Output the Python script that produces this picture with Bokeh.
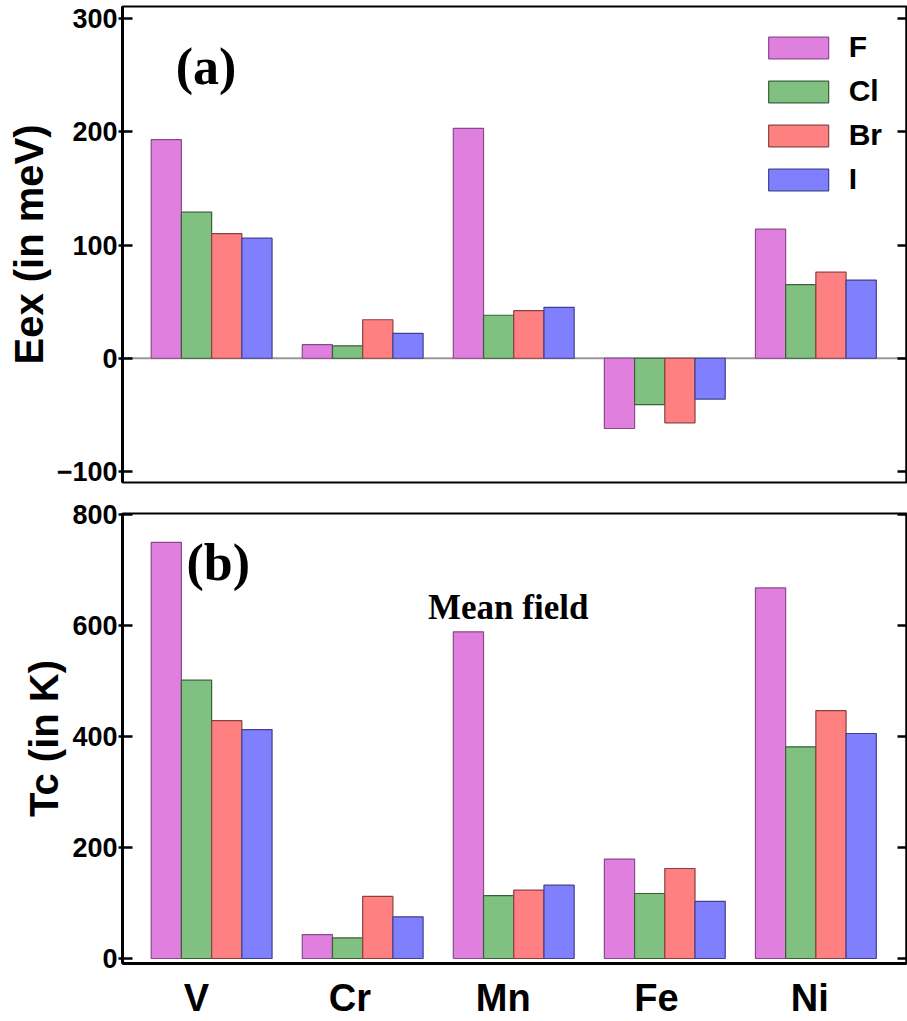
import numpy as np
from bokeh.plotting import figure
from bokeh.layouts import column
from bokeh.models import (Range1d, FixedTicker, LinearAxis, Legend, LegendItem,
                          Span, Label)
from bokeh.embed import file_html
from bokeh.resources import INLINE

# ---------------- data ----------------
elements = ["V", "Cr", "Mn", "Fe", "Ni"]
halides = ["F", "Cl", "Br", "I"]

eex_F = [193, 12, 203, -62, 114]
eex_Cl = [129, 11, 38, -41, 65]
eex_Br = [110, 34, 42, -57, 76]
eex_I = [106, 22, 45, -36, 69]

tc_F = [749, 43, 588, 179, 667]
tc_Cl = [501, 37, 113, 117, 381]
tc_Br = [428, 112, 123, 162, 446]
tc_I = [412, 75, 132, 103, 405]

eex_ticks = [-100, 0, 100, 200, 300]
tc_ticks = [0, 200, 400, 600, 800]

# ---------------- style ----------------
fills = {"F": "#DF80DF", "Cl": "#80C080", "Br": "#FF8080", "I": "#8080FF"}
edges = {"F": "#8A4A8A", "Cl": "#3A603A", "Br": "#8A4040", "I": "#40408F"}
SANS = "Liberation Sans"
SERIF = "Liberation Serif"
bar_w = 0.2
offsets = [-1.5 * bar_w, -0.5 * bar_w, 0.5 * bar_w, 1.5 * bar_w]
idx = np.arange(len(elements))
# category labels sit slightly left of the bar groups in the original
label_pos = [round(float(i) * 1.015 - 0.1, 3) for i in idx]

x_range = Range1d(-0.59, 4.60)


def style_yaxis(ax, ticks, labels=True):
    ax.ticker = FixedTicker(ticks=ticks)
    ax.minor_tick_line_color = None
    ax.major_tick_line_width = 2.5
    ax.major_tick_line_color = "black"
    ax.axis_line_width = 3
    ax.axis_line_color = "black"
    if labels:
        ax.major_tick_in = 10
        ax.major_tick_out = 4
        ax.major_label_text_font = SANS
        ax.major_label_text_font_style = "bold"
        ax.major_label_text_font_size = "27px"
        ax.major_label_text_color = "black"
        ax.major_label_standoff = 1
        ax.axis_label_text_font = SANS
        ax.axis_label_text_font_style = "bold"
        ax.axis_label_text_font_size = "40px"
        ax.axis_label_text_color = "black"
        ax.axis_label_standoff = 3
    else:
        ax.major_tick_in = 9
        ax.major_tick_out = 0
        ax.major_label_overrides = {t: "" for t in ticks}
        ax.major_label_standoff = 0
        ax.axis_line_width = 2


def make_fig(height, yr, top_b, bot_b):
    p = figure(width=907, height=height, x_range=x_range, y_range=yr,
               output_backend="svg", toolbar_location=None,
               min_border_left=122, min_border_right=1,
               min_border_top=top_b, min_border_bottom=bot_b)
    p.grid.visible = False
    p.outline_line_color = "black"
    p.outline_line_width = 2
    p.background_fill_color = "white"
    p.border_fill_color = "white"
    return p


# ---------------- top panel ----------------
p1 = make_fig(497, Range1d(-109.7, 310.6), 6, 15)
p1.xaxis.visible = False
style_yaxis(p1.yaxis[0], eex_ticks)
p1.yaxis[0].major_label_overrides = {-100: "\u2212100"}
p1.yaxis[0].axis_label = "Eex (in meV)"
r_ax1 = LinearAxis()
style_yaxis(r_ax1, eex_ticks, labels=False)
p1.add_layout(r_ax1, "right")

p1.add_layout(Span(location=0, dimension="width", line_color="#999999",
                   line_width=2, level="underlay"))

eex = {"F": eex_F, "Cl": eex_Cl, "Br": eex_Br, "I": eex_I}
items = []
for h, off in zip(halides, offsets):
    r = p1.vbar(x=idx + off, top=eex[h], bottom=0, width=bar_w,
                fill_color=fills[h], line_color=edges[h], line_width=1.2)
    items.append(LegendItem(label=h, renderers=[r]))

legend = Legend(items=items, location="top_right",
                glyph_width=75, glyph_height=27,
                label_text_font=SANS, label_text_font_style="bold",
                label_text_font_size="30px", label_text_color="black",
                label_standoff=13,
                label_height=27, spacing=10, padding=2, margin=24,
                border_line_color=None, background_fill_alpha=0)
p1.add_layout(legend, "center")

p1.add_layout(Label(x=-0.238, y=258, text="(a)", text_font=SERIF,
                    text_font_style="bold", text_font_size="52px",
                    text_color="black",
                    text_align="left", text_baseline="alphabetic"))

# ---------------- bottom panel ----------------
p2 = make_fig(524, Range1d(-9, 801), 16, 54)
style_yaxis(p2.yaxis[0], tc_ticks)
p2.yaxis[0].axis_label = "Tc (in K)"
r_ax2 = LinearAxis()
style_yaxis(r_ax2, tc_ticks, labels=False)
p2.add_layout(r_ax2, "right")

xa = p2.xaxis[0]
xa.ticker = FixedTicker(ticks=label_pos)
xa.major_label_overrides = {pos: e for pos, e in zip(label_pos, elements)}
xa.major_tick_in = 0
xa.major_tick_out = 0
xa.minor_tick_line_color = None
xa.axis_line_width = 3
xa.axis_line_color = "black"
xa.major_label_text_font = SANS
xa.major_label_text_font_style = "bold"
xa.major_label_text_font_size = "38px"
xa.major_label_text_color = "black"
xa.major_label_standoff = 13

tc = {"F": tc_F, "Cl": tc_Cl, "Br": tc_Br, "I": tc_I}
for h, off in zip(halides, offsets):
    p2.vbar(x=idx + off, top=tc[h], bottom=0, width=bar_w,
            fill_color=fills[h], line_color=edges[h], line_width=1.2)

p2.add_layout(Label(x=-0.166, y=713, text="(b)", text_font=SERIF,
                    text_font_style="bold", text_font_size="52px",
                    text_color="black",
                    text_align="left", text_baseline="alphabetic"))
p2.add_layout(Label(x=1.963, y=632, text="Mean field", text_font=SERIF,
                    text_font_style="bold", text_font_size="35px",
                    text_color="black",
                    text_align="center", text_baseline="alphabetic"))

layout = column(p1, p2, spacing=0)
open("out.html", "w").write(file_html(layout, INLINE))
